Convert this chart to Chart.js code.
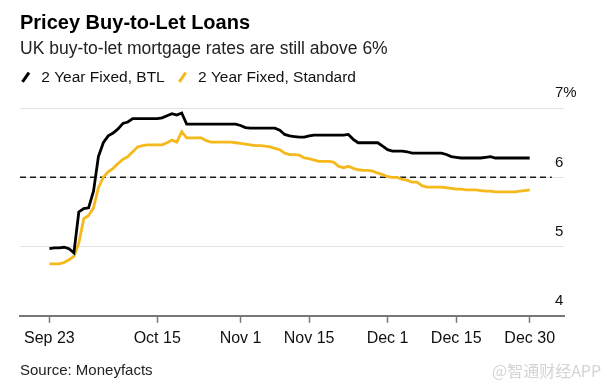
<!DOCTYPE html>
<html>
<head>
<meta charset="utf-8">
<title>Pricey Buy-to-Let Loans</title>
<script src="https://cdn.jsdelivr.net/npm/chart.js@4.4.0/dist/chart.umd.min.js"></script>
<style>
    html, body { margin: 0; padding: 0; background: #fff; }
    #chartBox { width: 611px; height: 391px; }
</style>
</head>
<body>
<div id="chartBox"><canvas id="lineChart" width="611" height="391"></canvas></div>
<script>
// day 0 = Sep 23, one value per day up to Dec 30 (day 98)
var btlRates = [
    4.97, 4.98, 4.98, 4.99, 4.97, 4.91, 5.50, 5.55, 5.56, 5.80,
    6.30, 6.50, 6.60, 6.64, 6.70, 6.78, 6.80, 6.85, 6.85, 6.85,
    6.85, 6.85, 6.85, 6.86, 6.89, 6.92, 6.90, 6.93, 6.77, 6.77,
    6.77, 6.77, 6.77, 6.77, 6.77, 6.77, 6.77, 6.77, 6.77, 6.75,
    6.72, 6.71, 6.71, 6.71, 6.71, 6.71, 6.71, 6.68, 6.62, 6.60,
    6.59, 6.58, 6.58, 6.60, 6.61, 6.61, 6.61, 6.61, 6.61, 6.61,
    6.61, 6.62, 6.55, 6.50, 6.50, 6.50, 6.50, 6.50, 6.45, 6.40,
    6.38, 6.38, 6.38, 6.37, 6.35, 6.35, 6.35, 6.35, 6.35, 6.35,
    6.35, 6.33, 6.30, 6.29, 6.28, 6.28, 6.28, 6.28, 6.28, 6.29,
    6.30, 6.28, 6.28, 6.28, 6.28, 6.28, 6.28, 6.28, 6.28
];
var standardRates = [
    4.75, 4.75, 4.75, 4.77, 4.81, 4.86, 5.05, 5.40, 5.45, 5.56,
    5.85, 6.00, 6.08, 6.13, 6.20, 6.26, 6.30, 6.37, 6.44, 6.46,
    6.47, 6.47, 6.47, 6.47, 6.50, 6.54, 6.51, 6.66, 6.57, 6.57,
    6.57, 6.57, 6.53, 6.51, 6.51, 6.51, 6.51, 6.51, 6.50, 6.49,
    6.48, 6.47, 6.46, 6.46, 6.45, 6.44, 6.42, 6.40, 6.35, 6.33,
    6.33, 6.32, 6.28, 6.27, 6.25, 6.23, 6.23, 6.23, 6.22, 6.16,
    6.14, 6.16, 6.13, 6.11, 6.10, 6.10, 6.09, 6.06, 6.04, 6.01,
    6.00, 6.00, 5.97, 5.96, 5.93, 5.93, 5.88, 5.86, 5.86, 5.86,
    5.86, 5.85, 5.84, 5.83, 5.83, 5.82, 5.82, 5.82, 5.81, 5.80,
    5.80, 5.79, 5.79, 5.79, 5.79, 5.79, 5.80, 5.81, 5.82
];
var seriesNames = ['2 Year Fixed, BTL', '2 Year Fixed, Standard'];
var tickDays = [0, 22, 39, 53, 69, 83, 98];
var tickLabels = ['Sep 23', 'Oct 15', 'Nov 1', 'Nov 15', 'Dec 1', 'Dec 15', 'Dec 30'];
var yTicks = [4, 5, 6, 7];
var refLevel = 6;
var refDays = [-6, 102.5];

var FONT = "'Liberation Sans', Arial, sans-serif";

function toPoints(values) {
    return values.map(function (v, i) { return { x: i, y: v }; });
}

// watermark in the bottom-right corner
var watermarkPlugin = {
    id: 'watermark',
    afterDraw: function (chart) {
        var ctx = chart.ctx;
        ctx.save();
        ctx.font = "16px 'Noto Sans CJK SC', sans-serif";
        ctx.fillStyle = '#d4d4d4';
        ctx.textAlign = 'left';
        ctx.textBaseline = 'middle';
        ctx.fillText('@智通财经APP', 492, 371);
        ctx.restore();
    }
};

var ctx = document.getElementById('lineChart').getContext('2d');
var chart = new Chart(ctx, {
    type: 'line',
    data: {
        datasets: [
            {
                label: seriesNames[0],
                data: toPoints(btlRates),
                borderColor: '#000000',
                borderWidth: 2.8,
                pointRadius: 0,
                tension: 0
            },
            {
                label: seriesNames[1],
                data: toPoints(standardRates),
                borderColor: '#f5b91c',
                borderWidth: 2.8,
                pointRadius: 0,
                tension: 0
            },
            {
                label: 'ref',
                data: refDays.map(function (d) { return { x: d, y: refLevel }; }),
                borderColor: '#1a1a1a',
                borderWidth: 1.5,
                borderDash: [6, 4],
                pointRadius: 0
            }
        ]
    },
    options: {
        responsive: false,
        devicePixelRatio: 1,
        animation: false,
        layout: { padding: { left: 8, right: 0, top: 0, bottom: 0 } },
        plugins: {
            title: {
                display: true,
                text: 'Pricey Buy-to-Let Loans',
                align: 'start',
                fullSize: false,
                color: '#000',
                font: { family: FONT, size: 20, weight: 'bold' },
                padding: { top: 11, bottom: 0 }
            },
            subtitle: {
                display: true,
                text: 'UK buy-to-let mortgage rates are still above 6%',
                align: 'start',
                fullSize: false,
                color: '#222',
                font: { family: FONT, size: 17.5 },
                padding: { top: 3.5, bottom: 0 }
            },
            legend: {
                display: true,
                position: 'top',
                align: 'start',
                labels: {
                    usePointStyle: true,
                    boxWidth: 15.5,
                    boxHeight: 8,
                    padding: 10,
                    color: '#111',
                    font: { family: FONT, size: 15.5 },
                    generateLabels: function (chart) {
                        var items = Chart.defaults.plugins.legend.labels.generateLabels(chart);
                        items = items.filter(function (it) { return it.datasetIndex < 2; });
                        items.forEach(function (it) {
                            it.pointStyle = 'line';
                            it.rotation = -55;
                            it.lineWidth = 3;
                            it.strokeStyle = chart.data.datasets[it.datasetIndex].borderColor;
                        });
                        return items;
                    }
                }
            },
            tooltip: { enabled: false }
        },
        scales: {
            x: {
                type: 'linear',
                min: -6,
                max: 105,
                afterBuildTicks: function (scale) {
                    scale.ticks = tickDays.map(function (d) { return { value: d }; });
                },
                ticks: {
                    color: '#111',
                    font: { family: FONT, size: 16 },
                    padding: 6,
                    maxRotation: 0,
                    autoSkip: false,
                    callback: function (value, index) { return tickLabels[index]; }
                },
                grid: {
                    display: true,
                    drawOnChartArea: false,
                    drawTicks: true,
                    tickLength: 7,
                    tickColor: '#777',
                    tickWidth: 1.5
                },
                border: { display: true, color: '#777', width: 2 },
                title: {
                    display: true,
                    text: 'Source: Moneyfacts',
                    align: 'start',
                    color: '#222',
                    font: { family: FONT, size: 15 },
                    padding: { top: 8, bottom: 11 }
                }
            },
            y: {
                type: 'linear',
                position: 'right',
                min: 4,
                max: 7.19,
                afterBuildTicks: function (scale) {
                    scale.ticks = yTicks.map(function (v) { return { value: v }; });
                },
                afterFit: function (scale) {
                    scale.width = 47;
                    // labels sit a little left of the axis box, so do not clip them to it
                    scale._computeLabelArea = function () { return undefined; };
                },
                ticks: {
                    color: '#111',
                    font: { family: FONT, size: 15 },
                    padding: -9,
                    crossAlign: 'near',
                    labelOffset: -15,
                    callback: function (value) { return value === 7 ? '7%' : String(value); }
                },
                grid: { color: '#e2e2e2', lineWidth: 1, drawTicks: false },
                border: { display: false }
            },
            pad: {
                type: 'linear',
                position: 'left',
                display: true,
                grid: { display: false },
                border: { display: false },
                ticks: { display: false },
                afterFit: function (scale) { scale.width = 12; }
            }
        }
    },
    plugins: [watermarkPlugin]
});
</script>
</body>
</html>
